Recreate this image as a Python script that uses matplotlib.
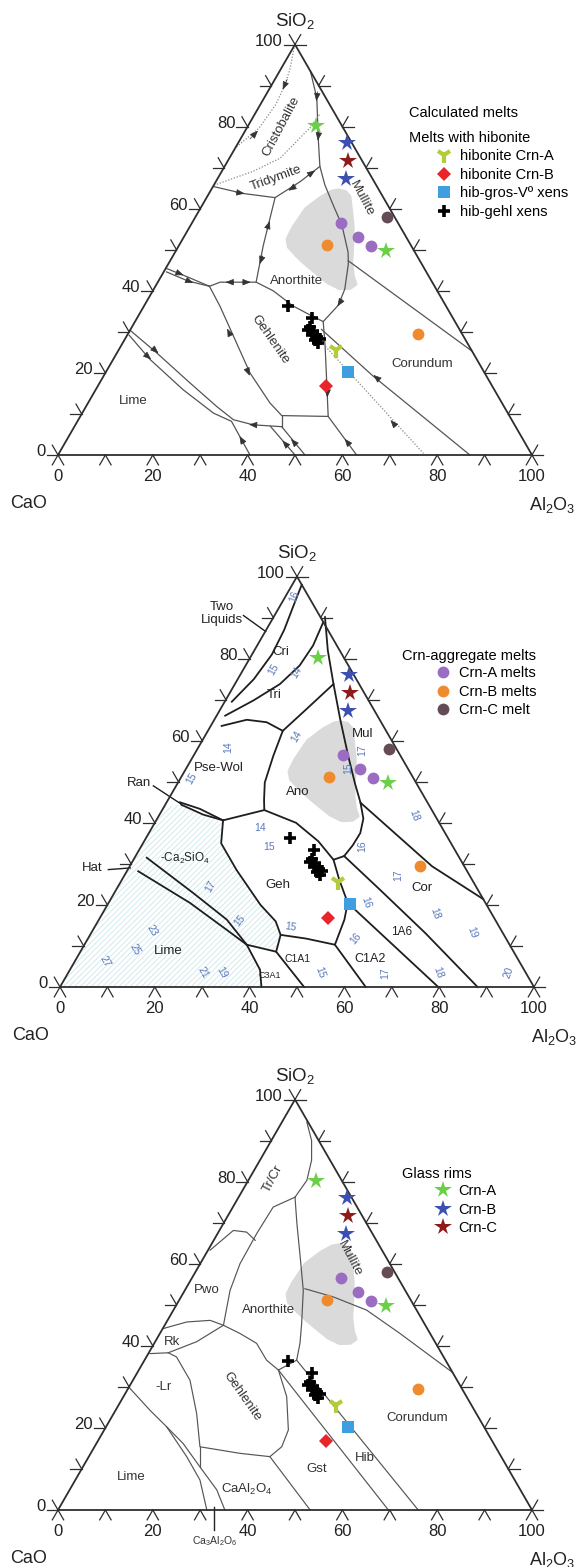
import numpy as np
import matplotlib
matplotlib.use("Agg")
import matplotlib.pyplot as plt
from matplotlib.patches import Polygon
from matplotlib.lines import Line2D

plt.rcParams['font.family'] = ['Liberation Sans', 'DejaVu Sans']
plt.rcParams['mathtext.fontset'] = 'custom'
plt.rcParams['mathtext.rm'] = 'Liberation Sans'
plt.rcParams['mathtext.it'] = 'Liberation Sans:italic'
plt.rcParams['hatch.linewidth'] = 0.6

# compositions as (Al2O3, SiO2) wt%
glass_A = np.array([[14.3, 80.2], [44.4, 49.8]])
glass_B = np.array([[23.1, 75.9], [27.2, 67.2]])
glass_C = np.array([[25.5, 71.5]])
melt_A = np.array([[31.4, 56.6], [36.8, 53.1], [40.6, 50.9]])
melt_B = np.array([[31.1, 51.2], [61.1, 29.5]])
melt_C = np.array([[40.5, 58.0]])
hib_A = np.array([[45.9, 25.6]])
hib_B = np.array([[48.2, 16.7]])
hib_gros = np.array([[51.1, 20.2]])
hib_gehl = np.array([[30.45, 36.3], [36.85, 33.3], [37.55, 31.3], [37.55, 30.5],
                     [38.85, 30.1], [38.85, 29.3], [40.25, 28.7], [40.25, 27.9],
                     [41.2, 28.2], [41.3, 27.2]])
# grey field of literature melts
blob = np.array([(26.8, 64.6), (28.6, 64.2), (30.1, 63.0), (32.2, 59.5), (34.45, 55.7),
                 (36.6, 51.2), (38.6, 46.8), (40.6, 43.5), (42.1, 41.6), (41.4, 40.6),
                 (39.15, 40.5), (36.0, 41.9), (33.0, 43.8), (29.3, 46.2), (26.15, 48.4),
                 (23.3, 50.6), (22.0, 52.6), (21.8, 55.5), (22.2, 60.0), (24.0, 62.8),
                 (25.6, 64.3)])

# ---- panel 1: liquidus boundaries ----
p1_solid = [
    [(6.5, 93.5), (11.1, 87.0), (16.3, 77.2), (20.1, 70.3), (23.4, 65.8), (27.6, 60.9),
     (31.9, 56.0), (36.5, 49.4), (38.0, 46.5), (40.3, 40.4), (40.9, 36.5), (39.7, 32.5)],
    [(37.6, 47.3), (74.7, 25.3)],
    [(0.1, 65.4), (7.25, 63.7), (14.45, 62.7), (17.8, 66.6), (20.1, 70.3)],
    [(14.45, 62.7), (17.8, 51.0), (20.75, 42.1)],
    [(11.4, 41.1), (13.15, 42.1), (20.75, 42.1), (25.4, 40.0), (31.45, 36.3), (35.5, 34.4), (39.7, 32.5)],
    [(0.0, 45.5), (5.85, 43.3), (11.4, 41.1)],
    [(0.6, 44.6), (6.2, 42.4), (11.4, 41.1)],
    [(11.4, 41.1), (16.0, 36.3), (22.5, 29.0), (30.5, 20.0), (38.35, 12.7), (42.4, 9.6), (52.3, 9.4)],
    [(39.7, 32.5), (43.1, 26.5), (47.9, 17.6), (52.3, 9.4), (63.0, 0.0)],
    [(40.3, 30.6), (56.9, 19.2), (86.9, 0.0)],
    [(42.4, 9.6), (43.75, 6.9)],
    [(0.0, 30.4), (8.35, 24.9), (19.0, 17.6), (27.6, 11.8), (32.7, 8.6), (37.5, 7.35), (43.75, 6.9)],
    [(0.4, 29.2), (7.75, 23.3), (18.45, 15.9), (27.7, 10.2), (32.5, 8.2), (40.5, 0.0)],
    [(41.3, 7.0), (50.0, 0.0)],
    [(43.75, 6.9), (52.1, 0.0)],
]
p1_dotted = [
    [(0.2, 99.2), (1.85, 94.3), (2.8, 90.2), (3.25, 85.3), (2.6, 79.6), (0.15, 75.1)],
    [(13.7, 82.9), (13.3, 79.7), (10.7, 72.3), (6.6, 69.1), (0.0, 65.7)],
    [(42.5, 27.0), (76.9, 0.4)],
]
# arrowheads: tail -> tip
p1_arrows = [
    (2.6, 91.5, 2.9, 89.0), (2.0, 77.0, 2.7, 79.0),
    (10.5, 88.5, 11.4, 86.2), (15.6, 79.0, 16.5, 76.6),
    (17.4, 65.6, 16.4, 64.4), (18.6, 68.0, 19.6, 69.3),
    (5.5, 64.0, 7.5, 63.7),
    (16.6, 55.0, 16.2, 57.0), (18.9, 48.5, 19.3, 46.5),
    (16.0, 42.1, 14.3, 42.1), (17.9, 42.1, 19.6, 42.1),
    (3.0, 44.4, 4.6, 43.8), (6.0, 42.5, 7.6, 41.9),
    (21.3, 29.7, 20.3, 30.8), (29.5, 20.8, 30.8, 19.3),
    (6.5, 24.3, 8.0, 23.3), (7.3, 25.8, 8.8, 24.8),
    (38.2, 7.3, 36.6, 7.4),
    (37.1, 3.5, 36.0, 4.6),
    (46.5, 2.8, 45.6, 3.5), (48.1, 3.2, 47.2, 3.9),
    (59.4, 3.2, 58.5, 3.95),
    (58.0, 18.7, 56.8, 19.5), (66.9, 7.7, 65.9, 8.5),
    (49.3, 15.1, 49.8, 14.0), (40.95, 38.0, 40.85, 36.2),
]
p1_labels = [('Cristobalite', 7.15, 80.1, 62), ('Tridymite', 12.4, 67.4, 20),
             ('Mullite', 32.8, 62.5, -62), ('Anorthite', 29.1, 42.5, 0),
             ('Gehlenite', 30.6, 28.2, -55), ('Corundum', 65.7, 22.1, 0), ('Lime', 9.35, 13.1, 0)]

# ---- panel 2: FactSage-type liquidus ----
p2_lines = [
    [(2.0, 98.0), (2.8, 93.0), (3.8, 87.0), (4.2, 81.0), (3.4, 75.0), (1.5, 69.5)],
    [(11.1, 88.9), (11.8, 83.2), (11.4, 78.3), (9.5, 73.8), (5.9, 69.8), (1.8, 66.1)],
    [(2.3, 63.6), (6.85, 65.1), (11.35, 64.5), (15.8, 62.4), (18.15, 67.7), (20.8, 73.8)],
    [(10.85, 90.1), (15.5, 82.0), (20.8, 73.8), (26.45, 65.3), (32.65, 56.3), (37.5, 49.5),
     (40.95, 44.9), (43.5, 41.0), (44.6, 37.5), (44.5, 34.5), (44.0, 31.9)],
    [(40.95, 44.9), (63.8, 29.4), (78.6, 21.4)],
    [(15.8, 62.4), (16.85, 56.3), (18.3, 49.8), (20.3, 45.5), (21.55, 43.1)],
    [(14.1, 40.6), (21.55, 43.1), (29.8, 40.0), (36.75, 35.5), (42.2, 31.0), (44.0, 31.9)],
    [(2.8, 45.0), (7.8, 43.4), (14.1, 40.6)],
    [(3.4, 44.4), (9.2, 42.0), (14.1, 40.6)],
    [(14.1, 40.6), (16.5, 35.0), (23.0, 28.5), (32.3, 20.0), (37.5, 16.0), (40.2, 12.7),
     (46.0, 11.8), (52.85, 10.3)],
    [(42.2, 31.0), (45.8, 26.2), (50.45, 20.5), (51.8, 16.4), (52.85, 10.3), (64.5, 0.0)],
    [(44.0, 31.9), (55.65, 23.7), (70.55, 13.1), (88.1, 0.0)],
    [(50.45, 20.5), (79.8, 0.0)],
    [(2.55, 31.5), (16.65, 22.9), (27.0, 16.4), (34.25, 10.3)],
    [(2.4, 28.2), (17.15, 20.5), (28.25, 13.9), (34.25, 10.3), (40.1, 4.2), (42.5, 0.0)],
    [(34.25, 10.3), (41.3, 8.6), (40.2, 12.7)],
    [(41.3, 8.6), (51.5, 0.0)],
]
p2_leaders = [[(-6.55, 90.5), (0.1, 86.6)], [(-4.8, 49.0), (3.4, 44.5)], [(-4.1, 28.6), (0.3, 29.0)]]
p2_hatch = [(0.0, 44.0), (0.0, 0.0), (42.5, 0.0), (40.1, 4.2), (34.25, 10.3), (41.3, 8.6),
            (40.2, 12.7), (37.5, 16.0), (32.3, 20.0), (23.0, 28.5), (16.5, 35.0), (14.1, 40.6),
            (9.2, 42.0), (3.4, 44.4)]
p2_labels = [('Two\nLiquids', -11.4, 91.0, 0, 9.5), ('Cri', 5.75, 81.7, 0, 9.5), ('Tri', 9.55, 71.1, 0, 9.5),
             ('Pse-Wol', 6.7, 53.4, 0, 9.5), ('Ran', -8.2, 49.6, 0, 9.5), ('Ano', 26.5, 47.4, 0, 9.5),
             ('Mul', 33.0, 61.6, 0, 9.5), ('-Ca$_2$SiO$_4$', 10.6, 31.4, 0, 8.5), ('Hat', -7.65, 28.9, 0, 9.5),
             ('Geh', 33.5, 24.8, 0, 9.5), ('Cor', 64.3, 24.0, 0, 9.5), ('1A6', 65.35, 13.3, 0, 8.5),
             ('Lime', 18.4, 8.8, 0, 9.5), ('C1A1', 46.75, 6.9, 0, 7.5), ('C1A2', 62.05, 6.7, 0, 9),
             ('C3A1', 42.9, 2.8, 0, 6.5)]
iso_text = ['16', '15', '14', '14', '15', '14', '17', '15', '18', '14', '15', '16', '17', '17',
            '16', '18', '15', '15', '16', '19', '23', '25', '27', '21', '19', '15', '17', '18', '20']
iso_a = [1.85, 6.4, 11.5, 6.25, 2.35, 19.3, 34.85, 34.1, 53.75, 22.9, 27.1, 46.65, 19.6, 57.6,
         54.25, 70.2, 29.9, 41.35, 56.45, 80.25, 12.45, 11.2, 6.35, 28.35, 32.4, 53.1, 66.8, 78.1, 93.0]
iso_s = [95.1, 77.4, 76.6, 58.5, 50.7, 61.0, 57.7, 53.2, 41.7, 38.8, 34.0, 34.3, 24.4, 27.3,
         20.7, 17.8, 16.2, 14.5, 11.7, 13.3, 13.7, 9.2, 6.3, 3.45, 3.45, 3.45, 3.45, 3.45, 3.45]
iso_rot = [70, 60, 60, 90, 60, 60, 90, 90, -70, 0, 0, 90, 60, 90, -70, -70, 50, -10, 50, -70,
           -60, -60, -60, -60, -60, -70, 90, -70, 70]

# ---- panel 3 ----
p3_lines = [
    [(5.25, 94.5), (8.5, 90.0), (10.9, 85.2), (12.35, 80.3), (11.9, 76.2)],
    [(11.9, 76.2), (8.5, 73.8), (8.25, 67.3), (8.4, 60.0), (9.55, 53.5), (12.4, 45.0)],
    [(0.45, 63.3), (2.95, 68.1), (5.95, 67.7), (8.75, 65.7)],
    [(11.9, 76.2), (15.5, 69.8), (20.3, 61.6), (25.0, 53.5), (28.7, 45.4), (30.75, 40.6),
     (32.1, 36.5), (29.45, 34.1)],
    [(25.15, 53.9), (32.15, 51.9), (40.75, 48.7), (50.65, 43.0), (66.5, 33.5)],
    [(0.1, 44.2), (4.25, 45.8), (9.0, 46.2), (12.4, 45.0)],
    [(0.35, 38.1), (4.1, 38.3), (8.75, 41.0), (12.4, 45.0), (16.9, 43.0), (21.6, 40.6),
     (25.75, 36.5), (29.45, 34.1)],
    [(4.1, 38.3), (6.35, 37.3), (12.05, 31.6), (17.5, 23.5), (22.25, 15.4), (31.5, 13.8),
     (38.2, 13.0), (39.5, 15.4), (38.85, 19.5), (34.45, 27.6), (29.45, 34.1)],
    [(29.45, 34.1), (69.7, 0.0)],
    [(32.1, 36.5), (76.0, 0.0)],
    [(0.4, 29.6), (7.25, 24.3), (12.75, 20.3), (20.65, 13.0), (26.3, 7.3), (31.4, 0.0)],
    [(12.75, 20.3), (18.3, 16.2), (24.7, 10.5), (31.05, 4.9), (35.2, 0.0)],
    [(22.25, 15.4), (24.7, 10.5)],
    [(38.2, 13.0), (53.2, 0.0)],
]
p3_labels = [('Tr/Cr', 5.05, 80.7, 62), ('Pwo', 4.65, 53.5, 0), ('Anorthite', 20.05, 48.7, 0),
             ('Rk', 3.5, 41.0, 0), ('Mullite', 31.0, 61.2, -62), ('-Lr', 7.2, 30.0, 0),
             ('Gehlenite', 24.95, 27.6, -55), ('Corundum', 64.55, 22.3, 0), ('Lime', 11.5, 8.1, 0),
             ('CaAl$_2$O$_4$', 37.35, 4.9, 0), ('Gst', 49.55, 10.1, 0), ('Hib', 58.5, 12.6, 0)]

FIG_W, FIG_H = 580, 1567
SC = 4.74          # pixels per wt% along the base
H = np.sqrt(3) / 2
EDGE = '#2e2e2e'


def tern(a, s):
    a = np.asarray(a, float)
    s = np.asarray(s, float)
    return a + s / 2.0, s * H


def make_panel(fig, top, bottom, x0, y0):
    ax = fig.add_axes([0, 1 - bottom / FIG_H, 1, (bottom - top) / FIG_H])
    ax.set_xlim(-x0 / SC, (FIG_W - x0) / SC)
    ax.set_ylim((y0 - bottom) / SC, (y0 - top) / SC)
    ax.axis('off')
    return ax


def frame(ax):
    x, y = tern([0, 100, 0, 0], [0, 0, 100, 0])
    ax.plot(x, y, color=EDGE, lw=1.3, zorder=4)
    L = 2.4
    for v in range(0, 101, 10):
        for (a, s), dirs in [((v, 0), [(-0.5, -H), (0.5, -H)]),
                             ((0, v), [(-1, 0), (-0.5, H)]),
                             ((100 - v, v), [(1, 0), (0.5, H)])]:
            px, py = tern(a, s)
            for dx, dy in dirs:
                ax.plot([px, px + L * dx], [py, py + L * dy], color=EDGE, lw=0.9, zorder=4)
    for v in range(0, 101, 20):
        bx, by = tern(v, 0)
        ax.text(bx, by - 4.6, str(v), ha='center', va='center', fontsize=12, color='#222')
        lx, ly = tern(0, v)
        ax.text(lx - 2.6, ly + 0.7, str(v), ha='right', va='center', fontsize=12, color='#222')
    ax.text(-6.3, -10.3, 'CaO', ha='center', va='center', fontsize=13, color='#222')
    ax.text(104.3, -10.5, 'Al$_2$O$_3$', ha='center', va='center', fontsize=13, color='#222')
    ax.text(50, 100 * H + 5.0, 'SiO$_2$', ha='center', va='center', fontsize=13.5, color='#222')


def draw_lines(ax, lines, **kw):
    for ln in lines:
        pts = np.array(ln)
        ax.plot(*tern(pts[:, 0], pts[:, 1]), zorder=2, **kw)


STYLES = [
    (glass_A, dict(marker='*', color='#6bcf48', ms=13, mew=0)),
    (glass_B, dict(marker='*', color='#3b50b0', ms=13, mew=0)),
    (glass_C, dict(marker='*', color='#8e1a1a', ms=13, mew=0)),
    (melt_A, dict(marker='o', color='#9a6cc2', ms=8.5, mew=0)),
    (melt_B, dict(marker='o', color='#ef8a2e', ms=8.5, mew=0)),
    (melt_C, dict(marker='o', color='#654b56', ms=8.5, mew=0)),
    (hib_A, dict(marker='1', color='#b2cd3a', ms=11, mew=3)),
    (hib_gros, dict(marker='s', color='#3f9ee0', ms=8, mew=0)),
    (hib_B, dict(marker='D', color='#e8252b', ms=7, mew=0)),
    (hib_gehl, dict(marker='+', color='black', ms=9, mew=2.6)),
]


def samples(ax):
    for pts, st in STYLES:
        ax.plot(*tern(pts[:, 0], pts[:, 1]), ls='none', zorder=6, **st)


def grey_field(ax):
    x, y = tern(blob[:, 0], blob[:, 1])
    ax.add_patch(Polygon(np.column_stack([x, y]), closed=True, facecolor='#dadada',
                         edgecolor='#dadada', lw=2, joinstyle='round', zorder=1))


def legend(ax, px, py, handles, labels):
    ax.legend(handles, labels, loc='upper left', bbox_to_anchor=(px / FIG_W, 1 - py / FIG_H),
              bbox_transform=ax.figure.transFigure, frameon=False, borderpad=0, borderaxespad=0,
              handlelength=1.0, handletextpad=0.55, labelspacing=0.32, fontsize=10.5,
              prop={'family': ['Liberation Sans', 'DejaVu Sans'], 'size': 10.5})


def h(st):
    return Line2D([], [], ls='none', **st)


fig = plt.figure(figsize=(FIG_W / 100, FIG_H / 100), dpi=100)

# ---------------- panel 1 ----------------
ax1 = make_panel(fig, 0, 525, 58, 455)
frame(ax1)
grey_field(ax1)
draw_lines(ax1, p1_solid, color='#555555', lw=0.9)
draw_lines(ax1, p1_dotted, color='#8a8a8a', lw=0.9, ls=(0, (1, 1.4)))
for a1, s1, a2, s2 in p1_arrows:
    ax1.annotate('', xy=tern(a2, s2), xytext=tern(a1, s1), zorder=3,
                 arrowprops=dict(arrowstyle='-|>,head_length=0.55,head_width=0.22',
                                 color='#333333', lw=0.5, shrinkA=0, shrinkB=0, mutation_scale=9))
for txt, a, s, rot in p1_labels:
    ax1.text(*tern(a, s), txt, rotation=rot, ha='center', va='center', fontsize=9.5, color='#333')
samples(ax1)
ax1.text((409 - 58) / SC, (455 - 113) / SC, 'Calculated melts', ha='left', va='center', fontsize=10.5)
ax1.text((409 - 58) / SC, (455 - 138) / SC, 'Melts with hibonite', ha='left', va='center', fontsize=10.5)
legend(ax1, 437, 149,
       [h(STYLES[6][1]), h(STYLES[8][1]), h(STYLES[7][1]), h(STYLES[9][1])],
       ['hibonite Crn-A', 'hibonite Crn-B', 'hib-gros-Vº xens', 'hib-gehl xens'])

# ---------------- panel 2 ----------------
ax2 = make_panel(fig, 525, 1050, 60, 987)
frame(ax2)
hx, hy = tern([p[0] for p in p2_hatch], [p[1] for p in p2_hatch])
ax2.add_patch(Polygon(np.column_stack([hx, hy]), closed=True, fill=False, hatch='//////',
                      edgecolor='#cde7ea', lw=0, zorder=0))
grey_field(ax2)
draw_lines(ax2, p2_lines, color='#1e1e1e', lw=1.3)
draw_lines(ax2, p2_leaders, color='#1e1e1e', lw=1.0)
for t, a, s, r in zip(iso_text, iso_a, iso_s, iso_rot):
    ax2.text(*tern(a, s), t, rotation=r, ha='center', va='center', fontsize=7.5, color='#5a78bd')
for txt, a, s, rot, fs in p2_labels:
    ax2.text(*tern(a, s), txt, rotation=rot, ha='center', va='center', fontsize=fs,
             color='#222', linespacing=1.1)
samples(ax2)
ax2.text((402 - 60) / SC, (987 - 656) / SC, 'Crn-aggregate melts', ha='left', va='center', fontsize=10.5)
legend(ax2, 436, 666, [h(STYLES[3][1]), h(STYLES[4][1]), h(STYLES[5][1])],
       ['Crn-A melts', 'Crn-B melts', 'Crn-C melt'])

# ---------------- panel 3 ----------------
ax3 = make_panel(fig, 1050, 1567, 58, 1510)
frame(ax3)
grey_field(ax3)
draw_lines(ax3, p3_lines, color='#555555', lw=0.85)
for txt, a, s, rot in p3_labels:
    ax3.text(*tern(a, s), txt, rotation=rot, ha='center', va='center', fontsize=9.5, color='#333')
ax3.plot([33, 33], [0.6, -4.2], color='#222', lw=1.0)
ax3.text(33, -6.6, 'Ca$_3$Al$_2$O$_6$', ha='center', va='center', fontsize=7.5, color='#333')
samples(ax3)
ax3.text((402 - 58) / SC, (1510 - 1174) / SC, 'Glass rims', ha='left', va='center', fontsize=10.5)
legend(ax3, 436, 1184, [h(STYLES[0][1]), h(STYLES[1][1]), h(STYLES[2][1])],
       ['Crn-A', 'Crn-B', 'Crn-C'])

fig.savefig('out.png', dpi=100)
